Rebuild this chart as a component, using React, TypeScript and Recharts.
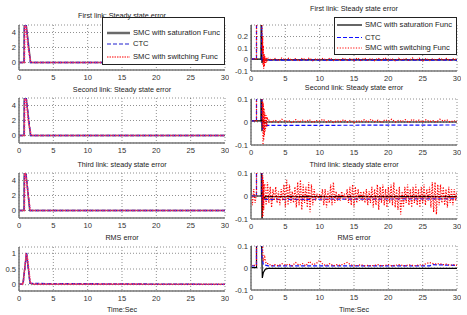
import React from 'react';
import { LineChart, Line, XAxis, YAxis, CartesianGrid, Legend } from 'recharts';

type Pt = [number, number];

// ---------- ticks / labels ----------
const X_TICKS = [0, 5, 10, 15, 20, 25, 30];
const LEFT_Y_TICKS = [0, 2, 4];
const LEFT_RMS_Y_TICKS = [0, 0.5, 1];
const RIGHT1_Y_TICKS = [-0.1, 0, 0.1, 0.2];
const RIGHT_Y_TICKS = [-0.1, 0, 0.1];
const TITLES = [
  'First link: Steady state error',
  'Second link: Steady state error',
  'Third link: steady state error',
  'RMS error',
];
const SERIES_NAMES = ['SMC with saturation Func', 'CTC', 'SMC with switching Func'];
const X_LABEL = 'Time:Sec';

// ---------- left column (large scale) ----------
const L1_SAT: Pt[] = [[0, 0], [0.72, 0], [0.75, 5.5], [1.0, 5.5], [1.7, 0], [30, 0]];
const L1_CTC: Pt[] = [[0, 0], [0.75, 0], [0.8, 5.3], [1.0, 5.3], [1.65, 0], [30, 0]];
const L1_SW: Pt[] = [[0, 0], [0.78, 0], [0.85, 5.2], [1.05, 4.8], [1.3, 2.2], [1.7, 0.1], [1.9, 0], [30, 0]];

const L2_SAT: Pt[] = [[0, 0], [0.72, 0], [0.75, 5.5], [1.0, 5.5], [1.65, 0], [30, 0]];
const L2_CTC: Pt[] = [[0, 0], [0.75, 0], [0.8, 5.3], [1.02, 5.3], [1.7, 0], [30, 0]];
const L2_SW: Pt[] = [[0, 0], [0.78, 0], [0.85, 5.2], [1.05, 4.9], [1.35, 2.0], [1.75, 0.1], [1.9, 0], [30, 0]];

const L3_SAT: Pt[] = [[0, 0], [0.72, 0], [0.75, 5.5], [0.95, 5.5], [1.55, 0], [30, 0]];
const L3_CTC: Pt[] = [[0, 0], [0.75, 0], [0.8, 5.2], [1.0, 5.2], [1.6, 0], [30, 0]];
const L3_SW: Pt[] = [[0, 0], [0.78, 0], [0.85, 5], [1.0, 4.8], [1.3, 2.4], [1.6, 0.2], [1.7, 0], [30, 0]];

const L4_SAT: Pt[] = [[0, 0.02], [0.55, 0.02], [1.1, 1.0], [1.6, 0.05], [2.0, 0.02], [30, 0.01]];
const L4_CTC: Pt[] = [[0, 0.02], [0.6, 0.02], [1.1, 1.02], [1.6, 0.04], [30, 0.01]];
const L4_SW: Pt[] = [[0, 0.02], [0.6, 0.02], [1.05, 0.95], [1.2, 0.9], [1.65, 0.05], [2.2, 0.02], [30, 0.015]];

// ---------- right column (zoomed) ----------
const R1_SAT: Pt[] = [[0, 0.5], [0.05, 0.003], [1.45, 0.003], [1.5, 0.5], [1.6, -0.03], [1.8, 0.01], [2.0, -0.01], [2.5, -0.004], [30, -0.004]];
const R1_CTC: Pt[] = [[0, 0.005], [0.8, 0.005], [0.85, 5], [1.6, 0], [1.7, -0.02], [2.0, -0.005], [30, -0.005]];
const R1_SW_START: Pt[] = [[0, 0.006], [0.8, 0.006], [0.9, 5], [1.6, 0.25], [1.65, 0.05], [1.7, 0.2], [1.75, -0.05], [1.8, 0.12], [1.85, -0.08], [1.9, 0.05], [1.95, -0.06], [2.0, 0.03], [2.1, -0.03], [2.2, 0.015], [2.3, -0.012], [2.4, 0.008]];
const R1_SW_TAIL = [
  0.012, -0.006, 0.01, -0.01, 0.014, -0.006, 0.012, -0.008, 0.008, -0.012,
  0.012, -0.004, 0.014, -0.01, 0.008, -0.006, 0.012, -0.008, 0.014, -0.01,
  0.006, -0.008, 0.012, -0.006, 0.01, -0.01, 0.014, -0.008, 0.012, -0.006,
  0.01, -0.01, 0.012, -0.006, 0.014, -0.008, 0.008, -0.012, 0.012, -0.005,
  0.01, -0.01, 0.014, -0.006, 0.012, -0.015, 0.01, -0.01, 0.008, -0.008,
  0.012, -0.006, 0.01, -0.01, 0.008, -0.004,
];

const R2_SAT: Pt[] = [[0, 0.5], [0.05, 0.005], [1.45, 0.005], [1.5, 0.5], [1.6, -0.04], [1.7, 0.01], [1.9, -0.005], [2.2, 0], [30, 0]];
const R2_CTC: Pt[] = [[0, 0.005], [0.8, 0.005], [0.85, 5], [1.6, 0], [1.7, -0.03], [2.0, -0.015], [30, -0.013]];
const R2_SW_START: Pt[] = [[0, 0.005], [0.8, 0.005], [0.9, 5], [1.6, 0.1], [1.65, -0.02], [1.7, 0.09], [1.75, -0.1], [1.8, 0.08], [1.85, -0.08], [1.9, 0.06], [1.95, -0.06], [2.0, 0.04], [2.1, -0.04], [2.2, 0.03], [2.3, -0.02], [2.4, 0.015]];
const R2_SW_TAIL = [
  0.01, 0.0, 0.008, -0.002, 0.012, 0.002, 0.006, -0.003, 0.01, 0.0,
  0.008, 0.002, 0.01, -0.002, 0.006, 0.004, 0.012, 0.0, 0.008, -0.002,
  0.006, 0.002, 0.01, 0.0, 0.008, -0.003, 0.006, 0.002, 0.01, 0.0,
  0.012, 0.002, 0.008, -0.002, 0.01, 0.004, 0.012, 0.0, 0.008, 0.002,
  0.01, -0.002, 0.012, 0.004, 0.008, 0.0, 0.01, 0.002, 0.006, 0.0,
  0.012, 0.004, 0.01, 0.0, 0.006, 0.002,
];

const R3_SAT: Pt[] = [[0, 0.5], [0.05, 0], [1.5, 0], [1.52, 0.5], [1.6, -0.15], [1.7, 0.02], [1.9, -0.01], [2.1, -0.003], [30, -0.003]];
const R3_CTC: Pt[] = [[0, 0], [0.8, 0], [0.85, 5], [1.6, 0], [1.7, -0.03], [2.0, -0.015], [30, -0.012]];
const R3_SW_START: Pt[] = [[0, 0.02], [0.2, -0.04], [0.4, 0.03], [0.6, -0.03], [0.8, 0.01], [0.9, 5], [1.6, 0.1], [1.65, -0.1], [1.7, 0.09], [1.75, -0.09], [1.8, 0.07], [1.85, -0.06], [1.9, 0.05]];
const R3_SW_TAIL = [
  0.05, -0.04, 0.06, -0.03, 0.04, -0.05, 0.03, -0.02, 0.04, -0.03, 0.02,
  -0.04, 0.03, -0.02, 0.05, -0.05, 0.07, -0.04, 0.05, -0.03, 0.02,
  -0.03, 0.04, -0.05, 0.06, -0.04, 0.07, -0.06, 0.05, -0.03, 0.04,
  -0.05, 0.06, -0.07, 0.05, -0.04, 0.03, -0.02, 0.01, -0.01, 0.01,
  -0.02, 0.03, -0.04, 0.03, -0.05, 0.02, -0.03, 0.05, -0.04, 0.06,
  -0.03, 0.02, -0.02, 0.01, -0.02, 0.02, -0.01, 0.01, -0.02, 0.03,
  -0.03, 0.04, -0.04, 0.05, -0.05, 0.04, -0.03, 0.03, -0.02, 0.02,
  -0.02, 0.02, -0.03, 0.03, -0.04, 0.02, -0.03, 0.04, -0.05, 0.03,
  -0.04, 0.05, -0.06, 0.04, -0.03, 0.05, -0.04, 0.03, -0.05, 0.04,
  -0.03, 0.05, -0.04, 0.06, -0.05, 0.03, -0.06, 0.04, -0.08, 0.02,
  -0.05, 0.04, -0.03, 0.05, -0.04, 0.03, -0.05, 0.04, -0.03, 0.05,
  -0.04, 0.03, -0.05, 0.04, -0.03, 0.05, -0.04, 0.03, -0.02, 0.04,
  -0.05, 0.06, -0.07, 0.06, -0.08, 0.05, -0.04, 0.05, -0.03, 0.04,
  -0.04, 0.03, -0.05, 0.04, -0.03, 0.03, -0.04, 0.03, -0.02, 0.02,
];

const R4_SAT: Pt[] = [[0, 0.5], [0.05, 0.002], [0.8, 0.002], [0.85, 1.0], [1.1, 1.0], [1.55, 0.1], [1.65, -0.045], [1.8, -0.02], [2.1, -0.005], [2.5, -0.002], [30, -0.002]];
const R4_CTC: Pt[] = [[0, 0.01], [0.8, 0.01], [0.85, 5], [1.6, 0.05], [1.8, 0.015], [2.5, 0.01], [26, 0.01], [26.5, 0.015], [30, 0.012]];
const R4_SW_START: Pt[] = [[0, 0.012], [0.8, 0.012], [0.9, 5], [1.7, 0.08], [1.8, 0.03], [2.0, 0.05], [2.2, 0.02]];
const R4_SW_TAIL = [
  0.02, 0.01, 0.015, 0.01, 0.02, 0.012, 0.018, 0.01, 0.025, 0.012,
  0.02, 0.01, 0.03, 0.015, 0.02, 0.035, 0.015, 0.012, 0.02, 0.01,
  0.015, 0.012, 0.018, 0.025, 0.015, 0.01, 0.012, 0.015, 0.01, 0.012,
  0.01, 0.012, 0.015, 0.01, 0.012, 0.015, 0.01, 0.012, 0.015, 0.012,
  0.01, 0.015, 0.012, 0.01, 0.015, 0.012, 0.02, 0.025, 0.02, 0.018,
  0.02, 0.015, 0.018, 0.012, 0.015, 0.012,
];

// sampling grids of the recorded tails
const TAIL_T0 = 2.5;
const TAIL_DT = 0.5;
const R3_TAIL_T0 = 2.0;
const R3_TAIL_DT = 0.2;

const onGrid = (t0: number, dt: number, vals: number[]): Pt[] =>
  vals.map((v, i) => [Math.round((t0 + i * dt) * 1000) / 1000, v] as Pt);

const R1_SW: Pt[] = [...R1_SW_START, ...onGrid(TAIL_T0, TAIL_DT, R1_SW_TAIL)];
const R2_SW: Pt[] = [...R2_SW_START, ...onGrid(TAIL_T0, TAIL_DT, R2_SW_TAIL)];
const R3_SW: Pt[] = [...R3_SW_START, ...onGrid(R3_TAIL_T0, R3_TAIL_DT, R3_SW_TAIL)];
const R4_SW: Pt[] = [...R4_SW_START, ...onGrid(TAIL_T0, TAIL_DT, R4_SW_TAIL)];

const toObj = (pts: Pt[]) => pts.map(([t, v]) => ({ t, v }));

// ---------- layout ----------
const FONT = '"Liberation Sans", Arial, Helvetica, sans-serif';
const MT = 12;
const XH = 14;
const YW = 19;
const MR = 4;
const PW = 206;

type Side = 'left' | 'right';

interface LegendSpec {
  x: number;
  y: number;
  w: number;
  h: number;
  rows: number[];
  sx0: number;
  sx1: number;
  tx: number;
}

const STYLE = {
  left: {
    sat: { stroke: '#6a6a6a', strokeWidth: 1.4, dash: undefined as string | undefined },
    ctc: { stroke: '#2020d0', strokeWidth: 1.3, dash: '4 2' },
    sw: { stroke: '#ff2060', strokeWidth: 1.6, dash: '1.5 1' },
  },
  right: {
    sat: { stroke: '#000000', strokeWidth: 1.2, dash: undefined as string | undefined },
    ctc: { stroke: '#1010ff', strokeWidth: 1.2, dash: '4 2' },
    sw: { stroke: '#ff0000', strokeWidth: 1.2, dash: '1.2 1.5' },
  },
};

function LegendBox({ spec, side }: { spec: LegendSpec; side: Side }) {
  const st = STYLE[side];
  const styles = [st.sat, st.ctc, st.sw];
  return (
    <div
      style={{
        position: 'relative',
        width: spec.w,
        height: spec.h,
        boxSizing: 'border-box',
        border: '1px solid #222',
        background: '#fff',
        fontFamily: FONT,
        fontSize: 7.6,
        color: '#222',
      }}
    >
      <svg width={spec.w} height={spec.h} style={{ position: 'absolute', left: -1, top: -1 }}>
        {SERIES_NAMES.map((n, i) => (
          <line
            key={n}
            x1={spec.sx0}
            x2={spec.sx1}
            y1={spec.rows[i]}
            y2={spec.rows[i]}
            stroke={side === 'left' && i === 2 ? '#ff0000' : styles[i].stroke}
            strokeWidth={side === 'left' && i === 0 ? 2.5 : 1.2}
            strokeDasharray={styles[i].dash}
          />
        ))}
      </svg>
      {SERIES_NAMES.map((n, i) => (
        <div
          key={n}
          style={{
            position: 'absolute',
            left: spec.tx - 1,
            top: spec.rows[i] - 1 - 5,
            height: 10,
            lineHeight: '10px',
            whiteSpace: 'nowrap',
          }}
        >
          {n}
        </div>
      ))}
    </div>
  );
}

interface PanelProps {
  plotLeft: number;
  plotTop: number;
  plotH: number;
  yDomain: [number, number];
  yTicks: number[];
  sat: Pt[];
  ctc: Pt[];
  sw: Pt[];
  side: Side;
  legend?: LegendSpec;
}

function Panel(p: PanelProps) {
  const divLeft = p.plotLeft - YW;
  const divTop = p.plotTop - MT;
  const W = YW + PW + MR;
  const H = MT + p.plotH + XH;
  const st = STYLE[p.side];
  const tickStyle = { fontSize: 7.6, fill: '#333', fontFamily: FONT };
  return (
    <div style={{ position: 'absolute', left: divLeft, top: divTop, width: W, height: H }}>
      <LineChart width={W} height={H} margin={{ top: MT, right: MR, bottom: 0, left: 0 }}>
        <CartesianGrid stroke="#444" strokeDasharray="1 2" strokeWidth={0.6} />
        <XAxis
          dataKey="t"
          type="number"
          domain={[0, 30]}
          ticks={X_TICKS}
          allowDataOverflow
          height={XH}
          tickSize={0}
          tickMargin={5}
          interval={0}
          tickLine={false}
          axisLine={{ stroke: '#777', strokeWidth: 1.5 }}
          tick={tickStyle}
        />
        <YAxis
          type="number"
          domain={p.yDomain}
          ticks={p.yTicks}
          allowDataOverflow
          width={YW}
          tickSize={0}
          tickMargin={3}
          interval={0}
          tickLine={false}
          axisLine={{ stroke: '#777', strokeWidth: 1.5 }}
          tick={tickStyle}
        />
        <Line data={toObj(p.sat)} dataKey="v" name={SERIES_NAMES[0]} stroke={st.sat.stroke} strokeWidth={st.sat.strokeWidth} dot={false} activeDot={false} isAnimationActive={false} />
        <Line data={toObj(p.ctc)} dataKey="v" name={SERIES_NAMES[1]} stroke={st.ctc.stroke} strokeWidth={st.ctc.strokeWidth} strokeDasharray={st.ctc.dash} dot={false} activeDot={false} isAnimationActive={false} />
        <Line data={toObj(p.sw)} dataKey="v" name={SERIES_NAMES[2]} stroke={st.sw.stroke} strokeWidth={st.sw.strokeWidth} strokeDasharray={st.sw.dash} dot={false} activeDot={false} isAnimationActive={false} />
        {p.legend && (
          <Legend
            layout="vertical"
            align="center"
            verticalAlign="middle"
            content={() => <LegendBox spec={p.legend as LegendSpec} side={p.side} />}
            wrapperStyle={{
              left: p.legend.x - divLeft,
              top: p.legend.y - divTop,
              width: p.legend.w,
              height: p.legend.h,
            }}
          />
        )}
      </LineChart>
    </div>
  );
}

const LEFT_X = 19;
const RIGHT_X = 251;
const LEFT_TOPS = [25, 98, 173, 247];
const RIGHT_TOPS = [25, 99, 173, 246];
const LEFT_TITLE_Y = [16, 90, 165, 238];
const RIGHT_TITLE_Y = [9, 87.5, 165, 238];

const LEFT_LEGEND: LegendSpec = { x: 102, y: 17, w: 123, h: 48, rows: [16, 27, 40], sx0: 5, sx1: 28, tx: 31 };
const RIGHT_LEGEND: LegendSpec = { x: 334, y: 17, w: 123, h: 38, rows: [8, 20.5, 31], sx0: 3, sx1: 28, tx: 31 };

function Title({ text, x, y }: { text: string; x: number; y: number }) {
  return (
    <div
      style={{
        position: 'absolute',
        left: x,
        top: y - 4,
        width: PW,
        height: 8,
        lineHeight: '8px',
        textAlign: 'center',
        fontFamily: FONT,
        fontSize: 7.2,
        color: '#222',
        whiteSpace: 'nowrap',
      }}
    >
      {text}
    </div>
  );
}

export default function App() {
  return (
    <div style={{ position: 'fixed', left: 0, top: 0, width: 467, height: 315, background: '#fff', overflow: 'hidden' }}>
      <Panel plotLeft={LEFT_X} plotTop={LEFT_TOPS[0]} plotH={45} yDomain={[-1, 5]} yTicks={LEFT_Y_TICKS} sat={L1_SAT} ctc={L1_CTC} sw={L1_SW} side="left" legend={LEFT_LEGEND} />
      <Panel plotLeft={LEFT_X} plotTop={LEFT_TOPS[1]} plotH={45} yDomain={[-1, 5]} yTicks={LEFT_Y_TICKS} sat={L2_SAT} ctc={L2_CTC} sw={L2_SW} side="left" />
      <Panel plotLeft={LEFT_X} plotTop={LEFT_TOPS[2]} plotH={45} yDomain={[-1, 5]} yTicks={LEFT_Y_TICKS} sat={L3_SAT} ctc={L3_CTC} sw={L3_SW} side="left" />
      <Panel plotLeft={LEFT_X} plotTop={LEFT_TOPS[3]} plotH={44} yDomain={[-0.2, 1.2]} yTicks={LEFT_RMS_Y_TICKS} sat={L4_SAT} ctc={L4_CTC} sw={L4_SW} side="left" />

      <Panel plotLeft={RIGHT_X} plotTop={RIGHT_TOPS[0]} plotH={46} yDomain={[-0.1, 0.3]} yTicks={RIGHT1_Y_TICKS} sat={R1_SAT} ctc={R1_CTC} sw={R1_SW} side="right" legend={RIGHT_LEGEND} />
      <Panel plotLeft={RIGHT_X} plotTop={RIGHT_TOPS[1]} plotH={46} yDomain={[-0.1, 0.1]} yTicks={RIGHT_Y_TICKS} sat={R2_SAT} ctc={R2_CTC} sw={R2_SW} side="right" />
      <Panel plotLeft={RIGHT_X} plotTop={RIGHT_TOPS[2]} plotH={46} yDomain={[-0.1, 0.1]} yTicks={RIGHT_Y_TICKS} sat={R3_SAT} ctc={R3_CTC} sw={R3_SW} side="right" />
      <Panel plotLeft={RIGHT_X} plotTop={RIGHT_TOPS[3]} plotH={44} yDomain={[-0.1, 0.1]} yTicks={RIGHT_Y_TICKS} sat={R4_SAT} ctc={R4_CTC} sw={R4_SW} side="right" />

      {TITLES.map((t, i) => (
        <Title key={'l' + i} text={t} x={LEFT_X} y={LEFT_TITLE_Y[i]} />
      ))}
      {TITLES.map((t, i) => (
        <Title key={'r' + i} text={t} x={RIGHT_X} y={RIGHT_TITLE_Y[i]} />
      ))}
      <Title text={X_LABEL} x={LEFT_X} y={310} />
      <Title text={X_LABEL} x={RIGHT_X} y={310} />
    </div>
  );
}
